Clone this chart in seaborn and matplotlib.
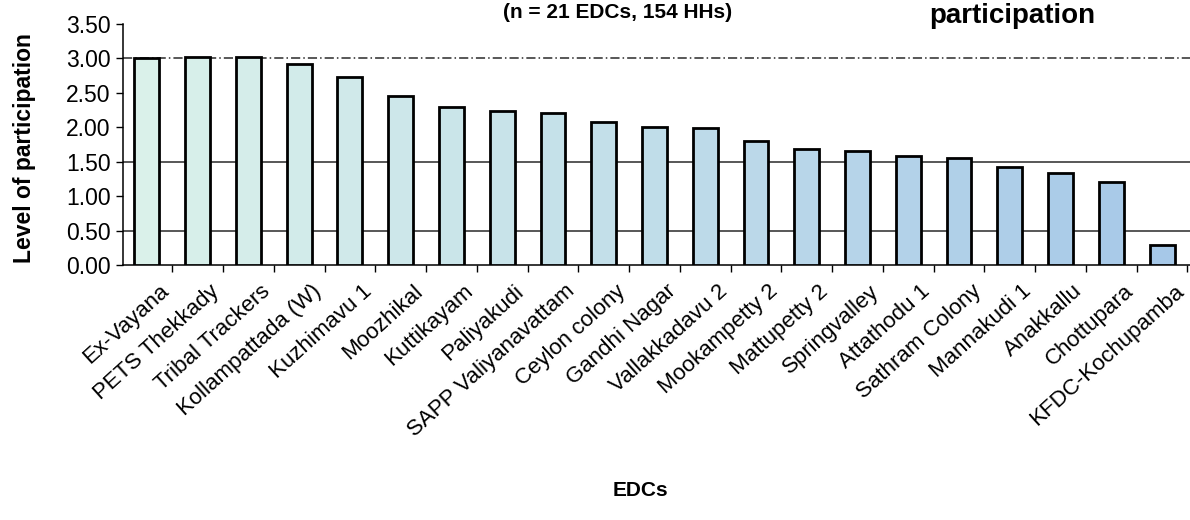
import numpy as np
import pandas as pd
import seaborn as sns
import matplotlib
matplotlib.use("Agg")
import matplotlib.pyplot as plt
import matplotlib.transforms as mtransforms
from matplotlib.colors import to_rgb

# Level of participation by EDC
edcs = [
    "Ex-Vayana", "PETS Thekkady", "Tribal Trackers", "Kollampattada (W)",
    "Kuzhimavu 1", "Moozhikal", "Kuttikayam", "Paliyakudi",
    "SAPP Valiyanavattam", "Ceylon colony", "Gandhi Nagar", "Vallakkadavu 2",
    "Mookampetty 2", "Mattupetty 2", "Springvalley", "Attathodu 1",
    "Sathram Colony", "Mannakudi 1", "Anakkallu", "Chottupara",
    "KFDC-Kochupamba",
]
participation = [
    3.00, 3.02, 3.02, 2.92, 2.73, 2.46, 2.29, 2.24, 2.21, 2.08, 2.01,
    1.99, 1.80, 1.69, 1.65, 1.59, 1.56, 1.43, 1.34, 1.20, 0.29,
]
y_ticks = [0.0, 0.5, 1.0, 1.5, 2.0, 2.5, 3.0, 3.5]
grid_levels = [0.5, 1.5, 3.0]

title_main = "participation"
title_sub = "(n = 21 EDCs, 154 HHs)"
x_title = "EDCs"
y_title = "Level of participation"

df = pd.DataFrame({"EDC": edcs, "Participation": participation})

sns.set_theme(style="white")
plt.rcParams["font.family"] = ["Liberation Sans", "DejaVu Sans"]
for key in ["text.color", "axes.labelcolor", "xtick.color", "ytick.color"]:
    plt.rcParams[key] = "black"

W, H = 1190, 520
fig = plt.figure(figsize=(W / 100, H / 100), dpi=100)
ax_left, ax_right = 123, 1190
ax_bottom, ax_top = 265, 24
ax = fig.add_axes([ax_left / W, 1 - ax_bottom / H,
                   (ax_right - ax_left) / W, (ax_bottom - ax_top) / H])

# pale mint fading into light blue along the ranking
c0, c1 = np.array(to_rgb("#daf1ea")), np.array(to_rgb("#a6c8e8"))
colors = [tuple(c0 + (c1 - c0) * t) for t in np.linspace(0, 1, len(edcs))]

sns.barplot(data=df, x="EDC", y="Participation", hue="EDC", palette=colors,
            legend=False, width=0.49, edgecolor="black", linewidth=2.0,
            saturation=1, ax=ax, zorder=3)

for g in grid_levels:
    ls = (0, (6, 2, 1, 2)) if g == 3.0 else "-"
    ax.axhline(g, color="#2a2a2a", lw=1.1, ls=ls, zorder=1)

ax.set_ylim(0, 3.5)
ax.set_xlim(-0.47, len(edcs) - 0.45)
ax.set_yticks(y_ticks)
ax.set_yticklabels([f"{v:.2f}" for v in y_ticks], fontsize=16.5)
ax.tick_params(axis="y", direction="out", length=5, width=1, color="black",
               labelcolor="black", left=True, pad=4)

# tick marks between categories, labels under each bar
ax.set_xticks(np.arange(len(edcs)))
ax.set_xticks(np.arange(len(edcs)) + 0.5, minor=True)
ax.tick_params(axis="x", which="major", length=0, pad=2, labelcolor="black")
ax.tick_params(axis="x", which="minor", direction="out", length=5, width=1,
               color="black", bottom=True)
ax.set_xticklabels(edcs, rotation=42, ha="right", va="top",
                   rotation_mode="anchor", fontsize=16)
offset = mtransforms.ScaledTranslation(12 / 100, -13 / 100, fig.dpi_scale_trans)
for lab in ax.get_xticklabels():
    lab.set_transform(lab.get_transform() + offset)

for side in ["top", "right"]:
    ax.spines[side].set_visible(False)
for side in ["left", "bottom"]:
    ax.spines[side].set_color("black")
    ax.spines[side].set_linewidth(1.1)

ax.set_xlabel("")
ax.set_ylabel("")
fig.text(25 / W, 1 - 148 / H, y_title, rotation=90, ha="center", va="center",
         fontsize=16.5, fontweight="bold", color="black")
fig.text(640 / W, 1 - 490 / H, x_title, ha="center", va="center",
         fontsize=15, fontweight="bold", color="black")

# title lines along the top edge
fig.text(1012 / W, 1 - 23 / H, title_main, ha="center", va="baseline",
         fontsize=20, fontweight="bold", color="black")
fig.text(618 / W, 1 - 18 / H, title_sub, ha="center", va="baseline",
         fontsize=15, fontweight="bold", color="black")

fig.savefig("out.png", dpi=100, facecolor="white")
